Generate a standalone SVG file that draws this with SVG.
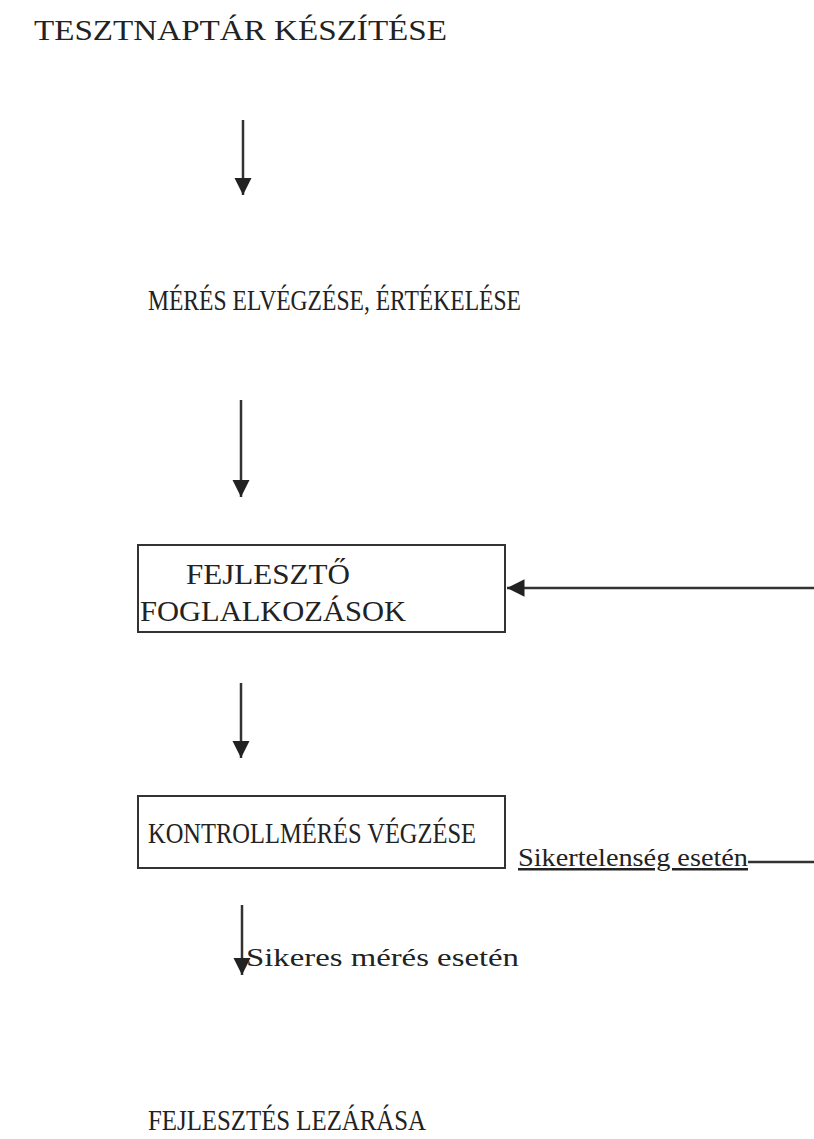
<svg xmlns="http://www.w3.org/2000/svg" width="814" height="1139" viewBox="0 0 814 1139">
<defs>
<style>
text{font-family:"Liberation Serif","Times New Roman",serif;fill:#222}
.t{font-size:30px}
.s{font-size:25px}
.box{fill:none;stroke:#333;stroke-width:2}
.ln{fill:none;stroke:#333;stroke-width:2.5}
</style>
<marker id="ah" viewBox="0 0 10 10" refX="10" refY="5" markerWidth="7" markerHeight="7" orient="auto">
<path d="M0,0 L10,5 L0,10 z" fill="#222"/>
</marker>
</defs>
<rect width="814" height="1139" fill="#fff"/>
<g id="n1"><text class="t" x="34" y="40" textLength="413" lengthAdjust="spacingAndGlyphs">TESZTNAPTÁR KÉSZÍTÉSE</text></g>
<g id="n2"><text class="t" x="148" y="310" textLength="373" lengthAdjust="spacingAndGlyphs">MÉRÉS ELVÉGZÉSE, ÉRTÉKELÉSE</text></g>
<g id="n3"><rect class="box" x="138" y="545" width="367" height="87"/>
<text class="t" x="186" y="584" textLength="164" lengthAdjust="spacingAndGlyphs">FEJLESZTŐ</text>
<text class="t" x="140" y="621" textLength="266" lengthAdjust="spacingAndGlyphs">FOGLALKOZÁSOK</text></g>
<g id="n4"><rect class="box" x="138" y="796" width="367" height="72"/>
<text class="t" x="148" y="843" textLength="328" lengthAdjust="spacingAndGlyphs">KONTROLLMÉRÉS VÉGZÉSE</text></g>
<g id="n5"><text class="t" x="148" y="1130" textLength="278" lengthAdjust="spacingAndGlyphs">FEJLESZTÉS LEZÁRÁSA</text></g>
<g id="connectors">
<line class="ln" x1="243" y1="120" x2="243" y2="195" marker-end="url(#ah)"/>
<line class="ln" x1="241" y1="400" x2="241" y2="497" marker-end="url(#ah)"/>
<line class="ln" x1="241" y1="683" x2="241" y2="758" marker-end="url(#ah)"/>
<line class="ln" x1="242" y1="905" x2="242" y2="975" marker-end="url(#ah)"/>
<polyline class="ln" points="748,862 818,862 818,588 507,588" marker-end="url(#ah)"/>
<text class="s" x="518" y="866" text-decoration="underline" textLength="230" lengthAdjust="spacingAndGlyphs">Sikertelenség esetén</text>
<text class="s" x="246" y="966" textLength="273" lengthAdjust="spacingAndGlyphs">Sikeres mérés esetén</text>
</g>
</svg>
